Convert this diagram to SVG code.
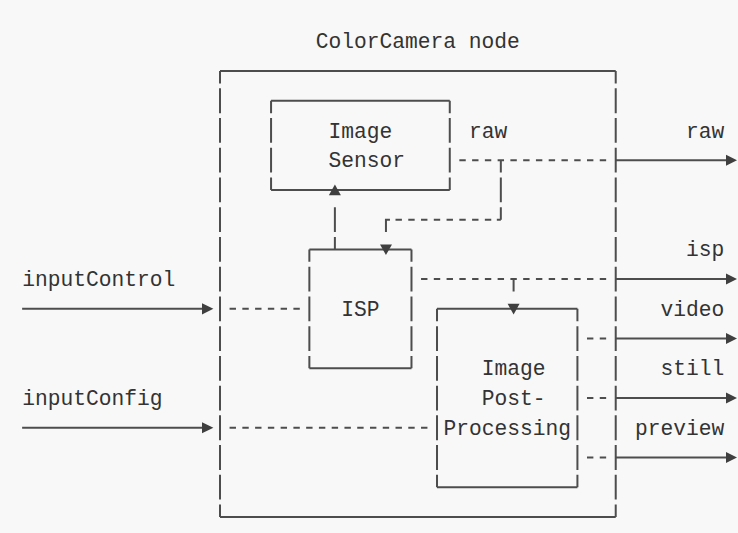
<svg xmlns="http://www.w3.org/2000/svg" width="738" height="533" viewBox="0 0 738 533">
<defs>
<style>
.ln{fill:none;stroke:#4d4d4d;stroke-width:2;stroke-linecap:butt}
.v{stroke-dasharray:24.8 4.93;stroke-dashoffset:12.4}
.v0{stroke-dasharray:24.8 4.93}
.d{stroke-dasharray:6.4 6.365}
.ah{fill:#3f3f3f;stroke:none}
text{font-family:"Liberation Mono","DejaVu Sans Mono",monospace;font-size:21.27px;fill:#333}
</style>
</defs>
<rect width="738" height="533" fill="#f8f8f8"/>

<g id="colorcamera-node">
<text x="315.7" y="48.3">ColorCamera node</text>
<path class="ln" d="M220 71H615.72M220 516.95H615.72"/>
<path class="ln v" d="M220 71V516.95M615.72 71V516.95"/>
</g>

<g id="image-sensor">
<path class="ln" d="M271.06 100.73H449.77M271.06 189.92H449.77"/>
<path class="ln v" d="M271.06 100.73V189.92M449.77 100.73V189.92"/>
<text x="328.5" y="137.5">Image</text>
<text x="328.5" y="167.2">Sensor</text>
</g>

<g id="isp">
<path class="ln" d="M309.36 249.38H411.48M309.36 368.3H411.48"/>
<path class="ln v" d="M309.36 249.38V368.3M411.48 249.38V368.3"/>
<text x="341.3" y="315.8">ISP</text>
</g>

<g id="image-post-processing">
<path class="ln" d="M437.01 308.84H577.42M437.01 487.22H577.42"/>
<path class="ln v" d="M437.01 308.84V487.22M577.42 308.84V487.22"/>
<text x="481.7" y="375.3">Image</text>
<text x="481.7" y="405">Post-</text>
<text x="443.4" y="434.8">Processing</text>
</g>

<g id="labels">
<text x="468.9" y="137.5">raw</text>
<text x="685.9" y="137.5">raw</text>
<text x="685.9" y="256.4">isp</text>
<text x="660.4" y="315.8">video</text>
<text x="660.4" y="375.3">still</text>
<text x="634.9" y="434.8">preview</text>
<text x="22.14" y="286.1">inputControl</text>
<text x="22.14" y="405">inputConfig</text>
</g>

<g id="connectors">
<!-- raw out of sensor -->
<path class="ln d" d="M459.34 160.19H606.16"/>
<path class="ln v" d="M500.83 160.19V219.65"/>
<path class="ln d" d="M395.5 219.65H491.27"/>
<path class="ln" d="M496.83 219.65H500.83M389.95 219.65H385.95V232.05"/>
<polygon class="ah" points="380,244.4 392,244.4 385.95,255"/>
<!-- ISP control to sensor -->
<path class="ln v0" d="M334.89 207.25V249.38"/>
<polygon class="ah" points="334.89,184.4 328.9,195.2 340.9,195.2"/>
<!-- isp out -->
<path class="ln d" d="M421.05 279.11H606.16"/>
<path class="ln" d="M513.6 279.11V291.5"/>
<polygon class="ah" points="507.6,303.8 519.6,303.8 513.6,314.4"/>
<!-- inputs -->
<path class="ln" d="M22.14 308.84H205M22.14 427.76H205"/>
<polygon class="ah" points="202,303.3 213.4,308.84 202,314.4"/>
<polygon class="ah" points="202,422.2 213.4,427.76 202,433.3"/>
<path class="ln d" d="M229.57 308.84H299.79M229.57 427.76H427.45"/>
<!-- post outputs -->
<path class="ln d" d="M586.99 338.57H606.16M586.99 398.03H606.16M586.99 457.49H606.16"/>
<!-- outputs -->
<path class="ln" d="M615.72 160.19H729M615.72 279.11H729M615.72 338.57H729M615.72 398.03H729M615.72 457.49H729"/>
<polygon class="ah" points="726,154.7 737,160.19 726,165.7"/>
<polygon class="ah" points="726,273.6 737,279.11 726,284.6"/>
<polygon class="ah" points="726,333.1 737,338.57 726,344.1"/>
<polygon class="ah" points="726,392.5 737,398.03 726,403.5"/>
<polygon class="ah" points="726,452 737,457.49 726,463"/>
</g>
</svg>
